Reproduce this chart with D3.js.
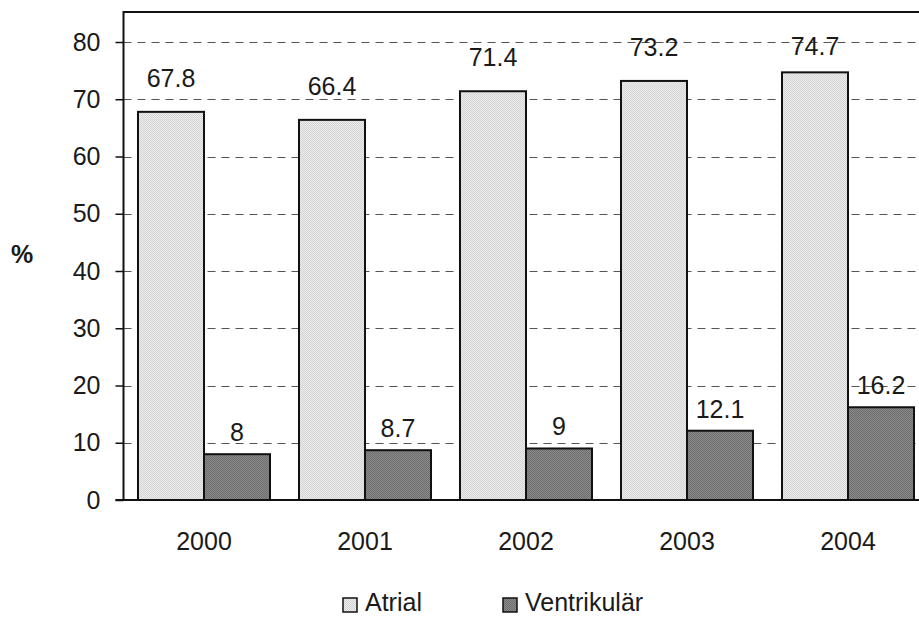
<!DOCTYPE html>
<html><head><meta charset="utf-8">
<script src="https://cdn.jsdelivr.net/npm/d3@7"></script>
<style>body{margin:0;background:#fff}svg{display:block}text{font-family:"Liberation Sans",Arial,sans-serif}</style>
</head><body><div id="c"></div>
<script>
const years = ["2000","2001","2002","2003","2004"];
const seriesNames = ["Atrial","Ventrikulär"];
const atrial = [67.8,66.4,71.4,73.2,74.7];
const ventrikular = [8,8.7,9,12.1,16.2];
const yTicks = [0,10,20,30,40,50,60,70,80];

const W=919,H=618,FS=25;
const svg=d3.select("#c").append("svg").attr("width",W).attr("height",H);
const defs=svg.append("defs");
function pat(id,a,b){
  const p=defs.append("pattern").attr("id",id).attr("width",2).attr("height",2).attr("patternUnits","userSpaceOnUse");
  p.append("rect").attr("width",2).attr("height",2).attr("fill",a);
  p.append("rect").attr("width",1).attr("height",1).attr("fill",b);
  p.append("rect").attr("x",1).attr("y",1).attr("width",1).attr("height",1).attr("fill",b);
}
pat("pA","#ececec","#d4d4d4");
pat("pV","#8a8a8a","#6e6e6e");
const fills=["url(#pA)","url(#pV)"];

const pLeft=123.5, pRight=928.5, pTop=12, pBottom=500;
const x=d3.scaleBand().domain(years).range([pLeft,pRight]).paddingInner(0.18).paddingOuter(0.09);
const xs=d3.scaleBand().domain(seriesNames).range([0,x.bandwidth()]);
const y=d3.scaleLinear().domain([0,80]).range([pBottom,42]);

// gridlines
svg.append("g").selectAll("line").data(yTicks.filter(d=>d>0)).join("line")
  .attr("x1",pLeft).attr("x2",W).attr("y1",d=>Math.round(y(d))+0.5).attr("y2",d=>Math.round(y(d))+0.5)
  .attr("stroke","#555").attr("stroke-width",1.2).attr("stroke-dasharray","8,6");

// bars
const data=[atrial,ventrikular];
seriesNames.forEach((s,i)=>{
  svg.append("g").selectAll("rect").data(years).join("rect")
    .attr("x",d=>x(d)+xs(s)).attr("width",xs.bandwidth())
    .attr("y",(d,j)=>y(data[i][j])).attr("height",(d,j)=>pBottom-y(data[i][j]))
    .attr("fill",fills[i]).attr("stroke","#111").attr("stroke-width",2);
});

// value labels
svg.append("g").selectAll("text").data(years).join("text")
  .attr("x",d=>x(d)+xs("Atrial")+xs.bandwidth()/2)
  .attr("y",(d,j)=>Math.max(y(atrial[j])-34,46)+9)
  .attr("text-anchor","middle").attr("font-size",FS).attr("fill","#1a1a1a")
  .text((d,j)=>atrial[j]);
svg.append("g").selectAll("text").data(years).join("text")
  .attr("x",d=>x(d)+xs("Ventrikulär")+xs.bandwidth()/2)
  .attr("y",(d,j)=>y(ventrikular[j])-22+9)
  .attr("text-anchor","middle").attr("font-size",FS).attr("fill","#1a1a1a")
  .text((d,j)=>ventrikular[j]);

// frame
svg.append("path").attr("d",`M${pLeft},${pBottom}V${pTop}H${W+5}`).attr("fill","none").attr("stroke","#111").attr("stroke-width",2);
svg.append("line").attr("x1",pLeft-8).attr("x2",W).attr("y1",pBottom).attr("y2",pBottom).attr("stroke","#111").attr("stroke-width",2);

// y axis
const ya=svg.append("g").attr("transform",`translate(${pLeft},0)`)
  .call(d3.axisLeft(y).tickValues(yTicks).tickSize(8).tickPadding(15));
ya.select(".domain").remove();
ya.selectAll("line").attr("stroke","#111").attr("stroke-width",1.5);
ya.selectAll("text").attr("font-size",FS).attr("fill","#1a1a1a").attr("font-family","Liberation Sans,Arial,sans-serif");

// x labels
svg.append("g").selectAll("text").data(years).join("text")
  .attr("x",d=>x(d)+x.bandwidth()/2).attr("y",550)
  .attr("text-anchor","middle").attr("font-size",FS).attr("fill","#1a1a1a").text(d=>d);

// % label
svg.append("text").attr("x",22).attr("y",263).attr("text-anchor","middle").attr("font-size",FS).attr("font-weight","bold").attr("fill","#1a1a1a").text("%");

// legend
const lg=svg.append("g");
const lx=[342,502];
seriesNames.forEach((s,i)=>{
  lg.append("rect").attr("x",lx[i]+1).attr("y",598).attr("width",14).attr("height",14).attr("fill",fills[i]).attr("stroke","#111").attr("stroke-width",1.5);
  lg.append("text").attr("x",lx[i]+23).attr("y",611).attr("font-size",FS).attr("fill","#1a1a1a").text(s);
});
</script></body></html>
